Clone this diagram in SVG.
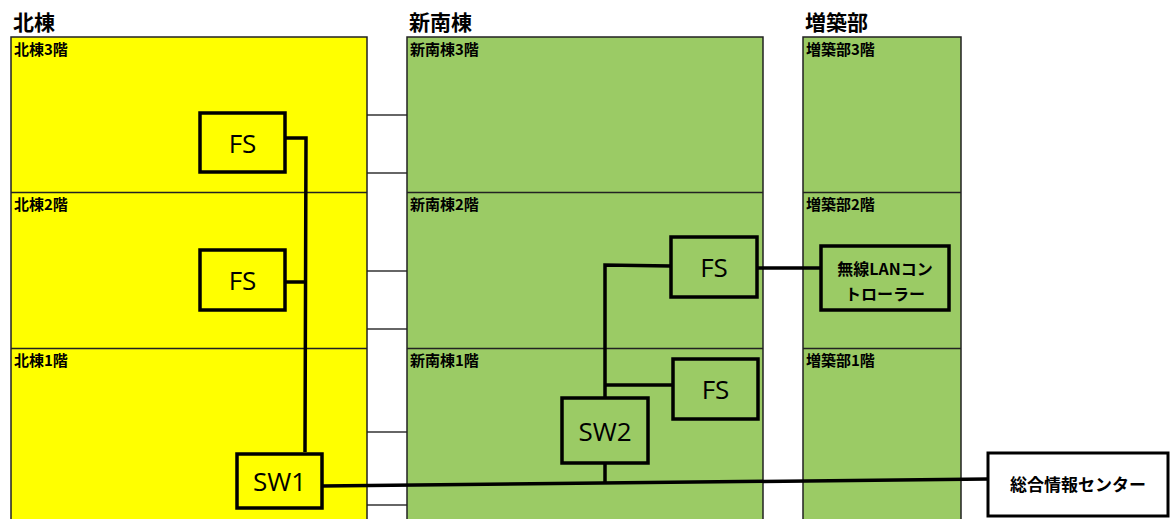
<svg xmlns="http://www.w3.org/2000/svg" width="1170" height="519" viewBox="0 0 1170 519">
<style>
.bld{stroke:#222;stroke-width:1.5}
.north{fill:#FFFF00}
.green{fill:#9BCB65}
.floor{stroke:#222;stroke-width:1.5;fill:none}
.bridge{stroke:#333;stroke-width:1.5;fill:none}
.title{font-family:"Noto Sans CJK JP","Noto Sans",sans-serif;font-weight:bold;font-size:21px;fill:#000}
.flabel{font-family:"Noto Sans CJK JP","Noto Sans",sans-serif;font-weight:bold;font-size:15px;fill:#000}
.box{stroke:#000;stroke-width:3.5;fill:none}
.boxw{stroke:#000;stroke-width:3;fill:#fff}
.dev{font-family:"Open Sans","Noto Sans",sans-serif;font-size:26px;fill:#000;text-anchor:middle}
.jp{font-family:"Noto Sans CJK JP",sans-serif;font-weight:bold;fill:#000;text-anchor:middle}
.conn{stroke:#000;stroke-width:3.5;fill:none}
</style>

<g id="bridges">
<line class="bridge" x1="367" y1="115" x2="407" y2="115"/>
<line class="bridge" x1="367" y1="173" x2="407" y2="173"/>
<line class="bridge" x1="367" y1="271" x2="407" y2="271"/>
<line class="bridge" x1="367" y1="329" x2="407" y2="329"/>
<line class="bridge" x1="367" y1="432" x2="407" y2="432"/>
<line class="bridge" x1="367" y1="505" x2="407" y2="505"/>
</g>

<g id="north">
<text class="title" x="13" y="30">北棟</text>
<rect class="bld north" x="11" y="37" width="356" height="490"/>
<line class="floor" x1="11" y1="192.5" x2="367" y2="192.5"/>
<line class="floor" x1="11" y1="348.5" x2="367" y2="348.5"/>
<text class="flabel" x="14" y="55">北棟3階</text>
<text class="flabel" x="14" y="210">北棟2階</text>
<text class="flabel" x="14" y="366">北棟1階</text>
</g>

<g id="south">
<text class="title" x="409" y="30">新南棟</text>
<rect class="bld green" x="407" y="37" width="356" height="490"/>
<line class="floor" x1="407" y1="192.5" x2="763" y2="192.5"/>
<line class="floor" x1="407" y1="348.5" x2="763" y2="348.5"/>
<text class="flabel" x="410" y="55">新南棟3階</text>
<text class="flabel" x="410" y="210">新南棟2階</text>
<text class="flabel" x="410" y="366">新南棟1階</text>
</g>

<g id="annex">
<text class="title" x="805" y="30">増築部</text>
<rect class="bld green" x="803" y="37" width="158" height="490"/>
<line class="floor" x1="803" y1="192.5" x2="961" y2="192.5"/>
<line class="floor" x1="803" y1="348.5" x2="961" y2="348.5"/>
<text class="flabel" x="806" y="55">増築部3階</text>
<text class="flabel" x="806" y="210">増築部2階</text>
<text class="flabel" x="806" y="366">増築部1階</text>
</g>

<g id="connectors">
<polyline class="conn" points="285,138 306,138 305,452"/>
<line class="conn" x1="285" y1="282" x2="306" y2="282"/>
<line class="conn" x1="322" y1="486" x2="988" y2="479"/>
<polyline class="conn" points="671,266 605,265 605,399"/>
<line class="conn" x1="605" y1="385" x2="673" y2="385"/>
<line class="conn" x1="605" y1="463" x2="605" y2="482"/>
<line class="conn" x1="757" y1="268" x2="821" y2="268"/>
</g>

<g id="fs-n3">
<rect class="box" x="200" y="113" width="85" height="59"/>
<text class="dev" x="242.5" y="153">FS</text>
</g>
<g id="fs-n2">
<rect class="box" x="200" y="250" width="85" height="60"/>
<text class="dev" x="242.5" y="290">FS</text>
</g>
<g id="sw1">
<rect class="box" x="237" y="454" width="85" height="54"/>
<text class="dev" x="279.5" y="491">SW1</text>
</g>
<g id="fs-s2">
<rect class="box" x="671" y="237" width="86" height="60"/>
<text class="dev" x="714" y="277">FS</text>
</g>
<g id="fs-s1">
<rect class="box" x="673" y="359" width="85" height="60"/>
<text class="dev" x="715.5" y="399">FS</text>
</g>
<g id="sw2">
<rect class="box" x="562" y="398" width="86" height="65"/>
<text class="dev" x="605" y="441">SW2</text>
</g>
<g id="wlc">
<rect class="box" x="821" y="246" width="128" height="64"/>
<text class="jp" x="885" y="275" font-size="16">無線LANコン</text>
<text class="jp" x="885" y="300" font-size="16">トローラー</text>
</g>
<g id="center">
<rect class="boxw" x="988" y="453" width="180" height="63"/>
<text class="jp" x="1078" y="491" font-size="17">総合情報センター</text>
</g>
</svg>
